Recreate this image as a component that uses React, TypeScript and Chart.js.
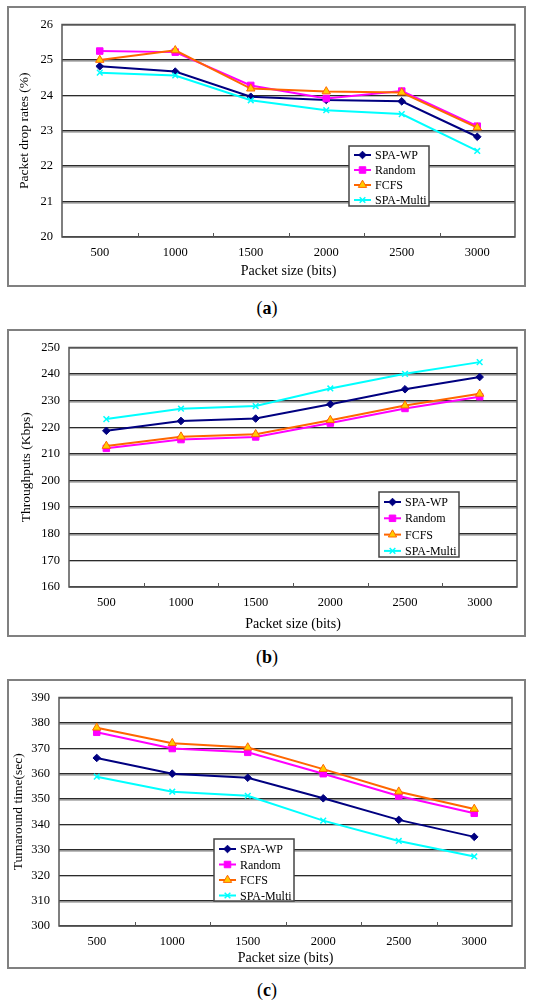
import React, { useEffect, useRef } from 'react';
import { Chart, registerables } from 'chart.js';
import { drawPoint } from 'chart.js/helpers';

Chart.register(...registerables);

const SERIF = '"Liberation Serif", "Times New Roman", serif';

const packetSizes = ['500', '1000', '1500', '2000', '2500', '3000'];
const seriesNames = ['SPA-WP', 'Random', 'FCFS', 'SPA-Multi'];

// (a) packet drop rates (%)
const dropSpaWp = [24.82, 24.67, 23.96, 23.87, 23.83, 22.83];
const dropRandom = [25.25, 25.22, 24.28, 23.91, 24.12, 23.13];
const dropFcfs = [25.0, 25.27, 24.19, 24.11, 24.08, 23.09];
const dropSpaMulti = [24.64, 24.56, 23.86, 23.58, 23.47, 22.43];

// (b) throughputs (Kbps)
const thrSpaWp = [218.7, 222.4, 223.3, 228.7, 234.3, 238.9];
const thrRandom = [212.1, 215.4, 216.4, 221.6, 227.1, 231.5];
const thrFcfs = [213.0, 216.5, 217.4, 222.7, 228.2, 232.6];
const thrSpaMulti = [223.1, 227.0, 228.0, 234.6, 240.1, 244.5];

// (c) turnaround time (sec)
const tatSpaWp = [366.2, 360.0, 358.4, 350.3, 341.8, 335.1];
const tatRandom = [376.3, 369.9, 368.4, 360.0, 351.2, 344.4];
const tatFcfs = [378.1, 372.0, 370.3, 361.8, 352.9, 346.1];
const tatSpaMulti = [358.8, 352.9, 351.3, 341.5, 333.5, 327.4];

const looks = [
  { line: '#000080', fill: '#000080', pointStyle: 'rectRot', radius: 3.8, width: 2 },
  { line: '#FF00FF', fill: '#FF00FF', pointStyle: 'rect', radius: 4.6, width: 2 },
  { line: '#FF6600', fill: '#FFCC00', pointStyle: 'triangle', radius: 4.8, width: 2 },
  { line: '#00FFFF', fill: '#00FFFF', pointStyle: 'crossRot', radius: 4, width: 2 },
];

interface Box { x: number; y: number; w: number; h: number; first: number; gap: number }
interface Inset { left: number; right: number; top: number; bottom: number }

interface PanelProps {
  caption: string;
  yTitle: string;
  values: number[][];
  yMin: number;
  yMax: number;
  yStep: number;
  frameTop: number;
  frameHeight: number;
  inset: Inset;
  yTitlePad: number;
  xTitlePad: number;
  legendBox: Box;
  captionTop: number;
}

const FRAME_LEFT = 7;
const FRAME_WIDTH = 519;
const BORDER = 2;

const Panel: React.FC<PanelProps> = (p) => {
  const canvasRef = useRef<HTMLCanvasElement | null>(null);

  useEffect(() => {
    if (!canvasRef.current) return;

    // plot frame, light shadow under gridlines, small tick marks between categories
    const plotDecor = {
      id: 'plotDecor',
      beforeDatasetsDraw(chart: any) {
        const { ctx, chartArea } = chart;
        const xs = chart.scales.x;
        const ys = chart.scales.y;
        ctx.save();
        ctx.strokeStyle = '#bbb';
        ctx.lineWidth = 1;
        ys.ticks.forEach((t: any) => {
          const py = Math.round(ys.getPixelForValue(t.value)) + 1.5;
          if (py < chartArea.bottom - 1 && py > chartArea.top + 2) {
            ctx.beginPath();
            ctx.moveTo(chartArea.left, py);
            ctx.lineTo(chartArea.right, py);
            ctx.stroke();
          }
        });
        ctx.strokeStyle = '#555';
        ctx.lineWidth = 1.5;
        ctx.strokeRect(chartArea.left, chartArea.top, chartArea.right - chartArea.left, chartArea.bottom - chartArea.top);
        ctx.lineWidth = 1;
        for (let i = 0; i < packetSizes.length - 1; i++) {
          const mx = Math.round((xs.getPixelForValue(i) + xs.getPixelForValue(i + 1)) / 2) + 0.5;
          ctx.beginPath();
          ctx.moveTo(mx, chartArea.bottom);
          ctx.lineTo(mx, chartArea.bottom - 4);
          ctx.stroke();
        }
        ctx.restore();
      },
    };

    const boxLegend = {
      id: 'boxLegend',
      afterDatasetsDraw(chart: any) {
        const { ctx } = chart;
        const b = p.legendBox;
        ctx.save();
        ctx.fillStyle = '#fff';
        ctx.fillRect(b.x, b.y, b.w, b.h);
        ctx.strokeStyle = '#444';
        ctx.lineWidth = 1.5;
        ctx.strokeRect(b.x, b.y, b.w, b.h);
        ctx.font = `12px ${SERIF}`;
        ctx.textBaseline = 'middle';
        seriesNames.forEach((name, i) => {
          const lk = looks[i];
          const cy = b.y + b.first + i * b.gap;
          ctx.strokeStyle = lk.line;
          ctx.lineWidth = lk.width;
          ctx.beginPath();
          ctx.moveTo(b.x + 5, cy);
          ctx.lineTo(b.x + 22, cy);
          ctx.stroke();
          ctx.fillStyle = lk.fill;
          ctx.strokeStyle = lk.line;
          ctx.lineWidth = lk.pointStyle === 'crossRot' ? 1.5 : 1;
          drawPoint(ctx, { pointStyle: lk.pointStyle as any, rotation: 0, radius: lk.radius, borderWidth: ctx.lineWidth }, b.x + 13.5, cy);
          ctx.fillStyle = '#000';
          ctx.fillText(name, b.x + 26, cy + 1);
        });
        ctx.restore();
      },
    };

    const chart = new Chart(canvasRef.current, {
      type: 'line',
      data: {
        labels: packetSizes,
        datasets: seriesNames.map((name, i) => ({
          label: name,
          data: p.values[i],
          order: 3 - i,
          borderColor: looks[i].line,
          borderWidth: looks[i].width,
          backgroundColor: looks[i].fill,
          pointStyle: looks[i].pointStyle as any,
          pointRadius: looks[i].radius,
          pointBackgroundColor: looks[i].fill,
          pointBorderColor: looks[i].line,
          pointBorderWidth: looks[i].pointStyle === 'crossRot' ? 1.5 : 1,
          tension: 0,
          fill: false,
        })),
      },
      options: {
        responsive: true,
        maintainAspectRatio: false,
        animation: false,
        layout: {
          padding: { top: p.inset.top - BORDER, right: p.inset.right - BORDER, left: 0, bottom: 0 },
        },
        plugins: {
          legend: { display: false },
          tooltip: { enabled: false },
        },
        scales: {
          x: {
            offset: true,
            grid: { display: false, drawTicks: false },
            border: { display: false },
            ticks: { color: '#000', font: { family: SERIF, size: 12.5 }, padding: 8, maxRotation: 0 },
            title: {
              display: true,
              text: 'Packet size (bits)',
              color: '#000',
              font: { family: SERIF, size: 14 },
              padding: { top: 0, bottom: p.xTitlePad },
            },
            afterFit: (s: any) => { s.height = p.inset.bottom - BORDER; },
          },
          y: {
            min: p.yMin,
            max: p.yMax,
            ticks: { stepSize: p.yStep, color: '#000', font: { family: SERIF, size: 12.5 }, padding: 9 },
            grid: { color: '#2a2a2a', lineWidth: 1.4, drawTicks: false },
            border: { display: false },
            title: {
              display: true,
              text: p.yTitle,
              color: '#000',
              font: { family: SERIF, size: 13.5 },
              padding: { top: p.yTitlePad, bottom: 0 },
            },
            afterFit: (s: any) => { s.width = p.inset.left - BORDER; },
          },
        },
      },
      plugins: [plotDecor, boxLegend],
    });

    return () => chart.destroy();
  }, [p]);

  return (
    <>
      <div
        style={{
          position: 'absolute',
          left: FRAME_LEFT,
          top: p.frameTop,
          width: FRAME_WIDTH,
          height: p.frameHeight,
          boxSizing: 'border-box',
          border: `${BORDER}px solid #808080`,
          background: '#fff',
        }}
      >
        <div style={{ position: 'relative', width: '100%', height: '100%' }}>
          <canvas ref={canvasRef} />
        </div>
      </div>
      <div
        style={{
          position: 'absolute',
          left: 0,
          width: 534,
          top: p.captionTop,
          textAlign: 'center',
          fontFamily: SERIF,
          fontSize: 18,
          lineHeight: '20px',
        }}
      >
        (<b>{p.caption}</b>)
      </div>
    </>
  );
};

const App: React.FC = () => (
  <div style={{ position: 'absolute', left: 0, top: 0, width: 534, height: 1000, background: '#fff' }}>
    <Panel
      caption="a"
      yTitle="Packet drop rates (%)"
      values={[dropSpaWp, dropRandom, dropFcfs, dropSpaMulti]}
      yMin={20}
      yMax={26}
      yStep={1}
      frameTop={6}
      frameHeight={281}
      inset={{ left: 55, right: 11, top: 16, bottom: 50 }}
      yTitlePad={7}
      xTitlePad={5}
      legendBox={{ x: 340, y: 138, w: 80, h: 60, first: 9, gap: 15 }}
      captionTop={298}
    />
    <Panel
      caption="b"
      yTitle="Throughputs (Kbps)"
      values={[thrSpaWp, thrRandom, thrFcfs, thrSpaMulti]}
      yMin={160}
      yMax={250}
      yStep={10}
      frameTop={329}
      frameHeight={308}
      inset={{ left: 62, right: 9, top: 18, bottom: 50 }}
      yTitlePad={9}
      xTitlePad={2}
      legendBox={{ x: 370, y: 161, w: 80, h: 65, first: 10, gap: 16.3 }}
      captionTop={647}
    />
    <Panel
      caption="c"
      yTitle="Turnaround time(sec)"
      values={[tatSpaWp, tatRandom, tatFcfs, tatSpaMulti]}
      yMin={300}
      yMax={390}
      yStep={10}
      frameTop={679}
      frameHeight={290}
      inset={{ left: 52, right: 14, top: 13, bottom: 43 }}
      yTitlePad={1}
      xTitlePad={0}
      legendBox={{ x: 205, y: 158, w: 80, h: 62, first: 10, gap: 15.5 }}
      captionTop={980}
    />
  </div>
);

export default App;
